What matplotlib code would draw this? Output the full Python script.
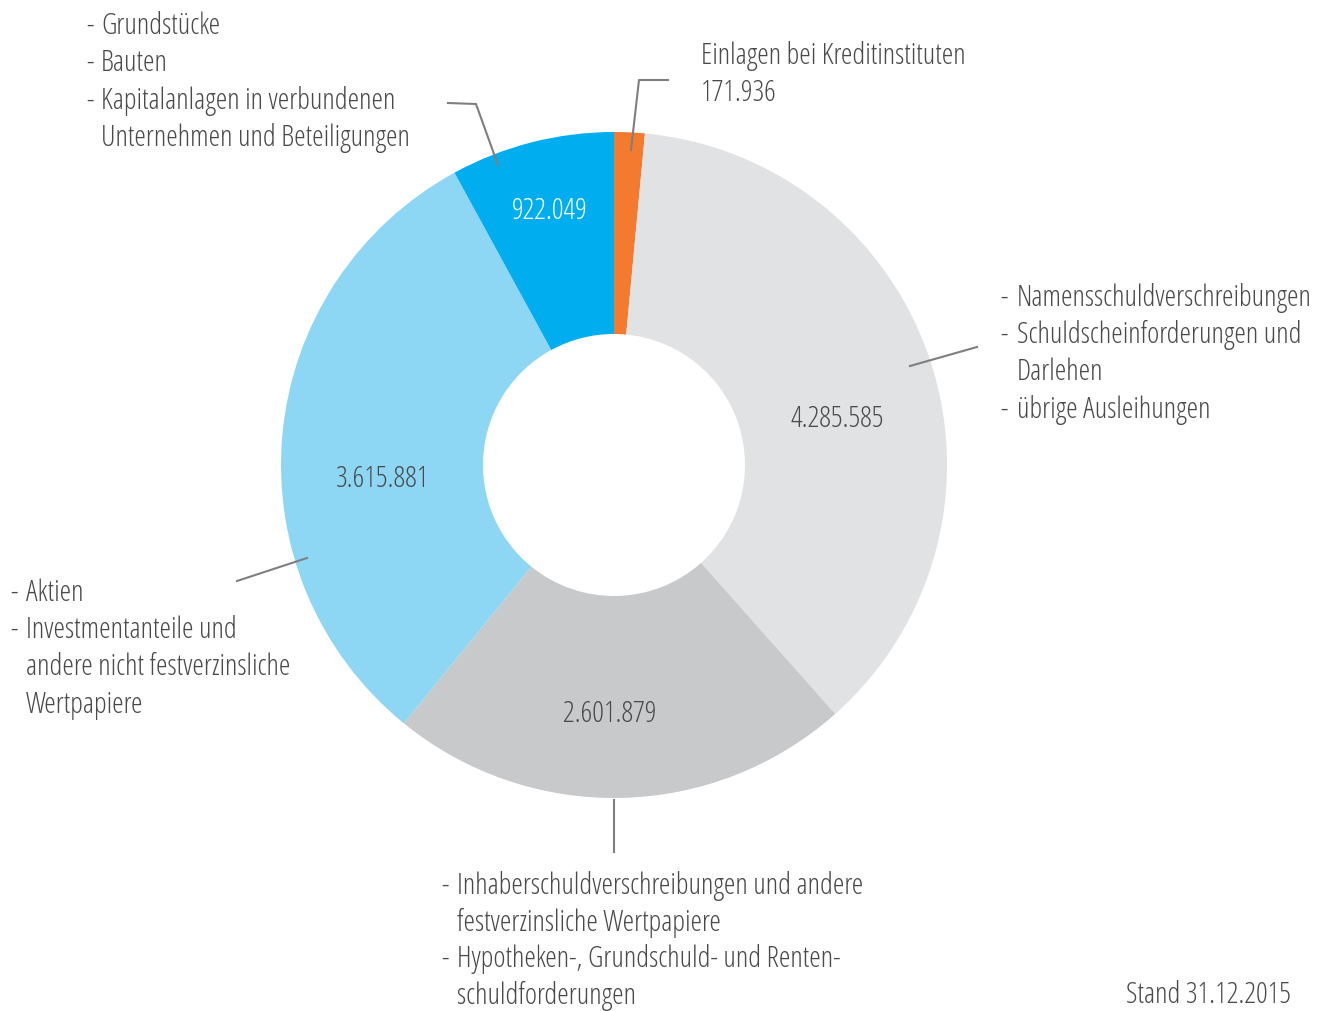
import matplotlib
matplotlib.use("Agg")
import matplotlib.pyplot as plt
from matplotlib import font_manager

# data (clockwise from the top)
values = [171936, 4285585, 2601879, 3615881, 922049]
value_labels = ["171.936", "4.285.585", "2.601.879", "3.615.881", "922.049"]
colors = ["#F37A2E", "#E1E2E3", "#C8C9CB", "#8DD7F5", "#00AEEF"]

# condensed light font, close to the original
fp = None
for f in font_manager.fontManager.ttflist:
    if f.name == "Open Sans" and f.stretch == "condensed" and f.weight == 300 and f.style == "normal":
        fp = font_manager.FontProperties(fname=f.fname)
        break
if fp is None:
    fp = font_manager.FontProperties(family="IBM Plex Sans Condensed", weight="light")

W, H = 1319, 1011
cx, cy = 614, 465
r_out, r_in = 333, 131
txt = "#4a4a4a"
line_c = "#7f7f7f"
fs = 21

fig = plt.figure(figsize=(W / 100, H / 100), dpi=100)
ax = fig.add_axes([0, 0, 1, 1])
# y axis inverted -> startangle -90 is the top, counterclock=True runs clockwise on screen
ax.pie(values, colors=colors, startangle=-90, counterclock=True,
       center=(cx, cy), radius=r_out,
       wedgeprops=dict(width=r_out - r_in, linewidth=0))
ax.set_xlim(0, W)
ax.set_ylim(H, 0)
ax.set_aspect('equal')
ax.axis('off')


def t(x, y, s, color=txt, ha="left"):
    ax.text(x, y + 4, s, color=color, fontproperties=fp, fontsize=fs, ha=ha, va="center")


# value labels inside the ring
t(550, 207, value_labels[4], color="white", ha="center")
t(837, 415, value_labels[1], ha="center")
t(383, 475, value_labels[3], ha="center")
t(610, 710, value_labels[2], ha="center")

# leader lines
lw = 1.5
ax.plot([631, 639, 668], [150, 80, 80], color=line_c, lw=lw)
ax.plot([498, 476, 448], [165, 104, 103], color=line_c, lw=lw)
ax.plot([910, 977], [366, 347], color=line_c, lw=lw)
ax.plot([307, 237], [558, 581], color=line_c, lw=lw)
ax.plot([614, 614], [800, 852], color=line_c, lw=lw)


def block(xd, xt, y0, lines, step=37.3):
    for i, (dash, s) in enumerate(lines):
        y = y0 + i * step
        if dash:
            t(xd, y, "-")
        t(xt, y, s)


block(86, 101, 22, [(True, "Grundstücke"), (True, "Bauten"),
                    (True, "Kapitalanlagen in verbundenen"),
                    (False, "Unternehmen und Beteiligungen")])
block(1000, 1017, 294, [(True, "Namensschuldverschreibungen"),
                        (True, "Schuldscheinforderungen und"),
                        (False, "Darlehen"), (True, "übrige Ausleihungen")])
block(10, 26, 589, [(True, "Aktien"), (True, "Investmentanteile und"),
                    (False, "andere nicht festverzinsliche"), (False, "Wertpapiere")])
block(441, 457, 882, [(True, "Inhaberschuldverschreibungen und andere"),
                      (False, "festverzinsliche Wertpapiere"),
                      (True, "Hypotheken-, Grundschuld- und Renten-"),
                      (False, "schuldforderungen")], step=36.5)
block(701, 701, 52, [(False, "Einlagen bei Kreditinstituten"), (False, value_labels[0])])

t(1291, 991, "Stand 31.12.2015", ha="right")

fig.savefig("out.png", dpi=100)
